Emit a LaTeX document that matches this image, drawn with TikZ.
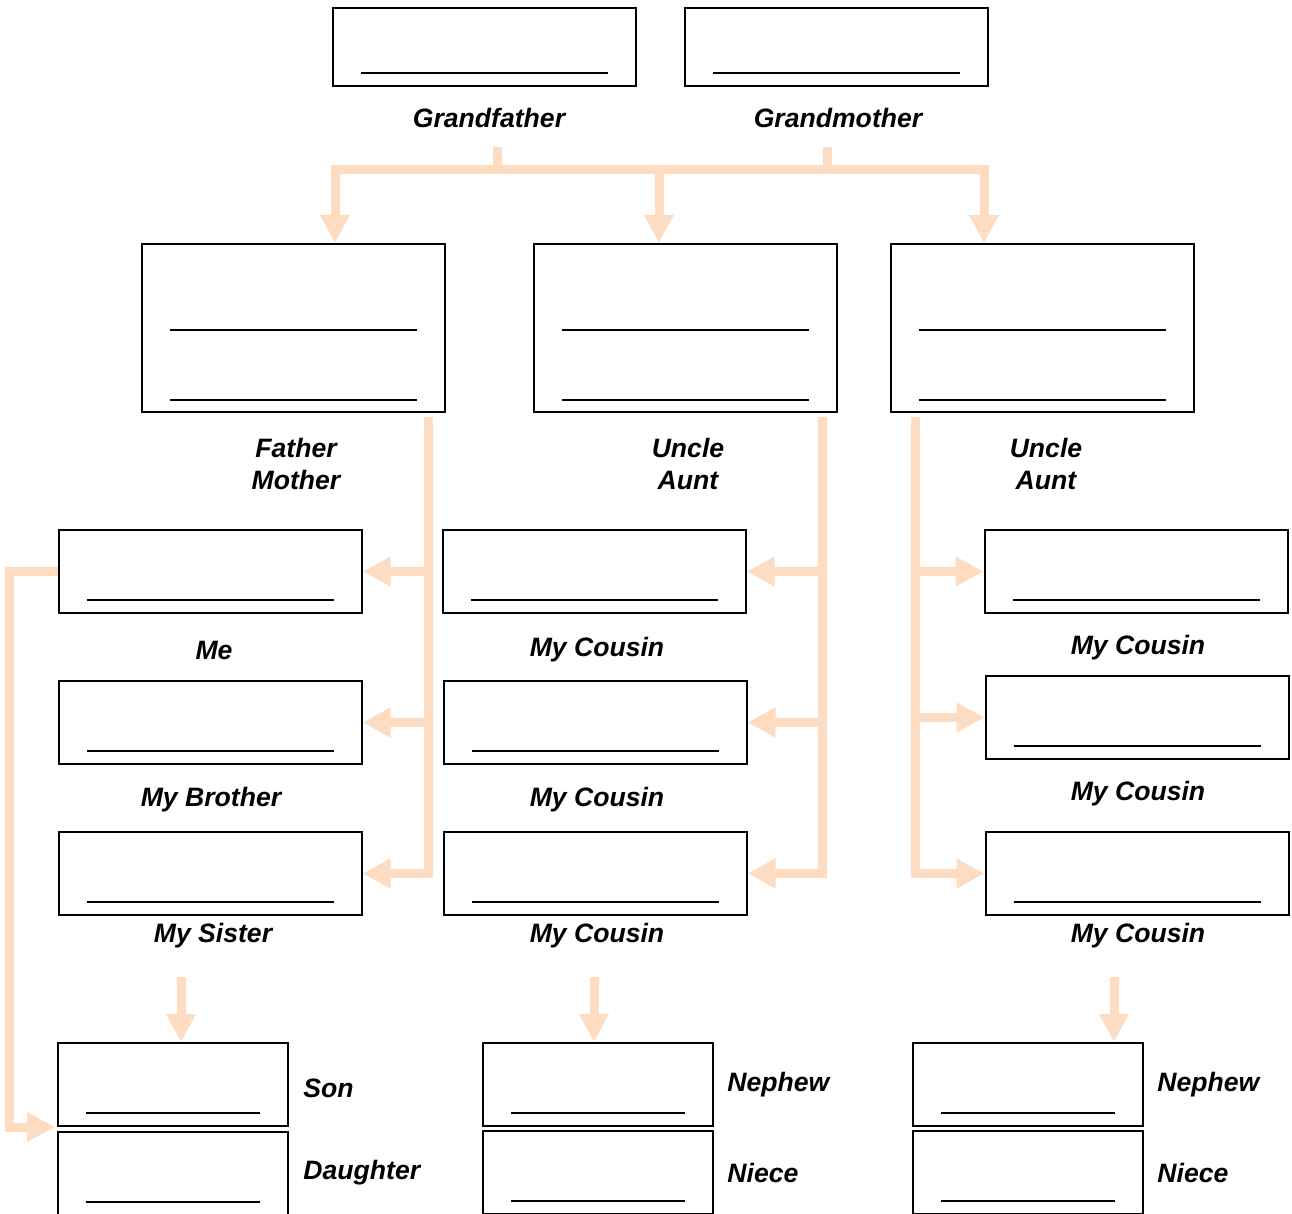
\documentclass[tikz,border=0pt]{standalone}
\usepackage{fontspec}
\setmainfont{Liberation Sans}
\usetikzlibrary{arrows.meta}
\definecolor{peach}{RGB}{253,220,193}
\newcommand{\famfont}{\fontsize{13.3}{16}\selectfont\bfseries\itshape}
\tikzset{
  box/.style={draw, line width=1pt, inner sep=0pt, minimum width=151.5pt, minimum height=41.5pt,
    path picture={\draw[line width=1.3pt]
      ([xshift=14pt,yshift=6.5pt]path picture bounding box.south west) --
      ([xshift=-14pt,yshift=6.5pt]path picture bounding box.south east);}},
  topbox/.style={box, minimum height=39pt},
  twobox/.style={box, minimum height=84pt,
    path picture={\draw[line width=1.3pt]
      ([xshift=14pt,yshift=41pt]path picture bounding box.south west) --
      ([xshift=-14pt,yshift=41pt]path picture bounding box.south east)
      ([xshift=14pt,yshift=6pt]path picture bounding box.south west) --
      ([xshift=-14pt,yshift=6pt]path picture bounding box.south east);}},
  smallbox/.style={box, minimum width=115pt},
  lab/.style={font=\famfont, inner sep=0pt, align=center},
  link/.style={draw=peach, line width=4.5pt, line join=miter}
}
\begin{document}
\begin{tikzpicture}[>={Triangle[width=14pt,length=14pt]}, x=0.5pt, y=-0.5pt]
\clip (0,0) rectangle (1292,1214);

% grandparents
\node[topbox] (gf) at (484.5,47) {};
\node[topbox] (gm) at (836.5,47) {};
\node[lab] (gflab) at (489,118) {Grandfather};
\node[lab] (gmlab) at (838,118) {Grandmother};

% parents, uncles and aunts
\node[twobox] (fm) at (293,328) {};
\node[twobox] (ua) at (685,328) {};
\node[twobox] (ub) at (1042,328) {};
\node[lab] (fmlab) at (296,464) {Father\\Mother};
\node[lab] (ualab) at (688,464) {Uncle\\Aunt};
\node[lab] (ublab) at (1046,464) {Uncle\\Aunt};

% me, brother, sister
\node[box] (me) at (210,571.5) {};
\node[box] (bro) at (210,722.5) {};
\node[box] (sis) at (210,873.5) {};
\node[lab] at (214,650) {Me};
\node[lab] at (211,800) {My Brother};
\node[lab] at (213,936) {My Sister};

% cousins
\node[box] (cb1) at (594,571.5) {};
\node[box] (cb2) at (595,722.5) {};
\node[box] (cb3) at (595,873.5) {};
\node[lab] at (597,650) {My Cousin};
\node[lab] at (597,800) {My Cousin};
\node[lab] at (597,936) {My Cousin};
\node[box] (cc1) at (1136,571.5) {};
\node[box] (cc2) at (1137,717.5) {};
\node[box] (cc3) at (1137,873.5) {};
\node[lab] at (1138,648) {My Cousin};
\node[lab] at (1138,794) {My Cousin};
\node[lab] at (1138,936) {My Cousin};

% children
\node[smallbox] (son) at (173,1084.5) {};
\node[smallbox] (dau) at (173,1173.5) {};
\node[lab, anchor=west] at (303,1088) {Son};
\node[lab, anchor=west] at (303,1173) {Daughter};
\node[smallbox] (nb1) at (597.5,1084.5) {};
\node[smallbox] (nb2) at (597.5,1172.5) {};
\node[lab, anchor=west] at (727,1085) {Nephew};
\node[lab, anchor=west] at (727,1173) {Niece};
\node[smallbox] (nc1) at (1027.5,1084.5) {};
\node[smallbox] (nc2) at (1027.5,1172.5) {};
\node[lab, anchor=west] at (1157,1085) {Nephew};
\node[lab, anchor=west] at (1157,1173) {Niece};

% top connector
\coordinate (barL) at (335,170);
\coordinate (barM) at (659,170);
\coordinate (barR) at (984,170);
\coordinate (gfstub) at (497,147);
\coordinate (gmstub) at (827,147);
\draw[link] (gfstub) -- (gfstub |- barL);
\draw[link] (gmstub) -- (gmstub |- barL);
\draw[link,<->] (barL |- fm.north) -- (barL) -- (barR) -- (barR |- ub.north);
\draw[link,->] (barM) -- (barM |- ua.north);

% second row connectors
\coordinate (fmdrop) at (428,417);
\draw[link,->] (fmdrop) |- (sis.east);
\draw[link,->] (fmdrop |- me.east) -- (me.east);
\draw[link,->] (fmdrop |- bro.east) -- (bro.east);
\coordinate (uadrop) at (822,417);
\draw[link,->] (uadrop) |- (cb3.east);
\draw[link,->] (uadrop |- cb1.east) -- (cb1.east);
\draw[link,->] (uadrop |- cb2.east) -- (cb2.east);
\coordinate (ubdrop) at (915,417);
\draw[link,->] (ubdrop) |- (cc3.west);
\draw[link,->] (ubdrop |- cc1.west) -- (cc1.west);
\draw[link,->] (ubdrop |- cc2.west) -- (cc2.west);

% down to the children
\draw[link,->] ([xshift=4pt,yshift=32.5pt]son.north) -- ([xshift=4pt]son.north);
\draw[link,->] ([xshift=-1.75pt,yshift=32.5pt]nb1.north) -- ([xshift=-1.75pt]nb1.north);
\draw[link,->] ([xshift=43.25pt,yshift=32.5pt]nc1.north) -- ([xshift=43.25pt]nc1.north);
\draw[link,->] (me.west) -- ++(-48,0) |- ([xshift=-1pt,yshift=2pt]dau.north west);
\end{tikzpicture}
\end{document}
